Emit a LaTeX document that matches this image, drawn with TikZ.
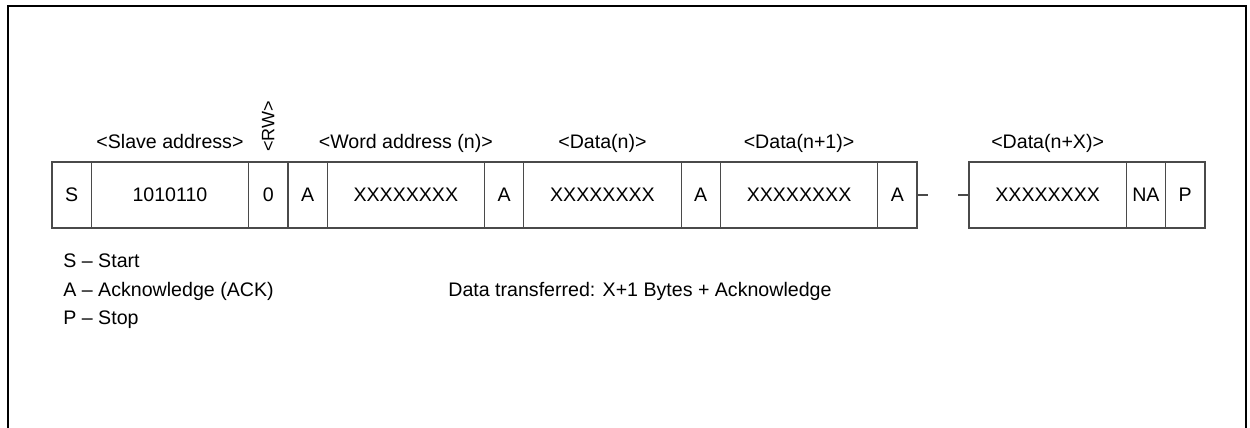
\documentclass[tikz,border=0pt]{standalone}
\usepackage{fontspec}
\setmainfont{Liberation Sans}
\usepackage{tikz}
\usetikzlibrary{positioning}
\usepackage{xcolor}
\definecolor{cellLine}{HTML}{4A4A4A}

\begin{document}
\begin{tikzpicture}[
            x=0.5pt, y=-0.5pt,
            every node/.style={font=\fontsize{9.8}{12}\selectfont},
            cell/.style={
                draw=cellLine,
                line width=0.6pt,
                rectangle,
                minimum height=33pt,
                inner sep=0pt,
                outer sep=0pt
            },
            bitcell/.style={cell, minimum width=19.65pt},
            bytecell/.style={cell, minimum width=78.65pt},
            lbl/.style={inner sep=0pt, text height=7.5pt, text depth=2pt},
            rwlbl/.style={inner sep=0pt, font=\fontsize{9}{11}\selectfont, rotate=90, anchor=west},
            keytext/.style={inner sep=0pt, anchor=base west},
            frame/.style={line width=1pt, draw=black},
            cut/.style={line width=0.6pt, draw=cellLine}
        ]
        \useasboundingbox (0,0) rectangle (1250,428);

        %---------------- Frame ----------------%
        \draw[frame] (8,428) -- (8,6) -- (1246,6) -- (1246,428);

        %---------------- Frame cells ----------------%
        \node[bitcell] (start) at (71.65,195) {S};
        \node[bytecell, right=0pt of start] (slave) {1010110};
        \node[bitcell, right=0pt of slave] (rw) {0};
        \node[bitcell, right=0pt of rw] (ack1) {A};
        \node[bytecell, right=0pt of ack1] (word) {XXXXXXXX};
        \node[bitcell, right=0pt of word] (ack2) {A};
        \node[bytecell, right=0pt of ack2] (data0) {XXXXXXXX};
        \node[bitcell, right=0pt of data0] (ack3) {A};
        \node[bytecell, right=0pt of ack3] (data1) {XXXXXXXX};
        \node[bitcell, right=0pt of data1] (ack4) {A};

        \node[bytecell, right=26pt of ack4] (dataX) {XXXXXXXX};
        \node[bitcell, right=0pt of dataX] (nack) {NA};
        \node[bitcell, right=0pt of nack] (stop) {P};

        %---------------- Break in the frame ----------------%
        \coordinate[right=5.5pt of ack4.east] (cutL);
        \coordinate[left=5.5pt of dataX.west] (cutR);
        \draw[cut] (ack4.east) -- (cutL);
        \draw[cut] (cutR) -- (dataX.west);

        %---------------- Field labels ----------------%
        \node[lbl, above=4.5pt of slave] (slaveLbl) {<Slave address>};
        \node[rwlbl] (rwLbl) at ([yshift=5pt]rw.north) {<RW>};
        \node[lbl, above=4.5pt of word] (wordLbl) {<Word address (n)>};
        \node[lbl, above=4.5pt of data0] (data0Lbl) {<Data(n)>};
        \node[lbl, above=4.5pt of data1] (data1Lbl) {<Data(n+1)>};
        \node[lbl, above=4.5pt of dataX] (dataXLbl) {<Data(n+X)>};

        %---------------- Key ----------------%
        \node[keytext] (keyS) at (63,267) {S – Start};
        \node[keytext] (keyA) at (63,296) {A – Acknowledge (ACK)};
        \node[keytext] (keyP) at (63,324) {P – Stop};
        \node[keytext] (total) at (448,296) {Data transferred: X+1 Bytes + Acknowledge};

        \end{tikzpicture}
\end{document}
